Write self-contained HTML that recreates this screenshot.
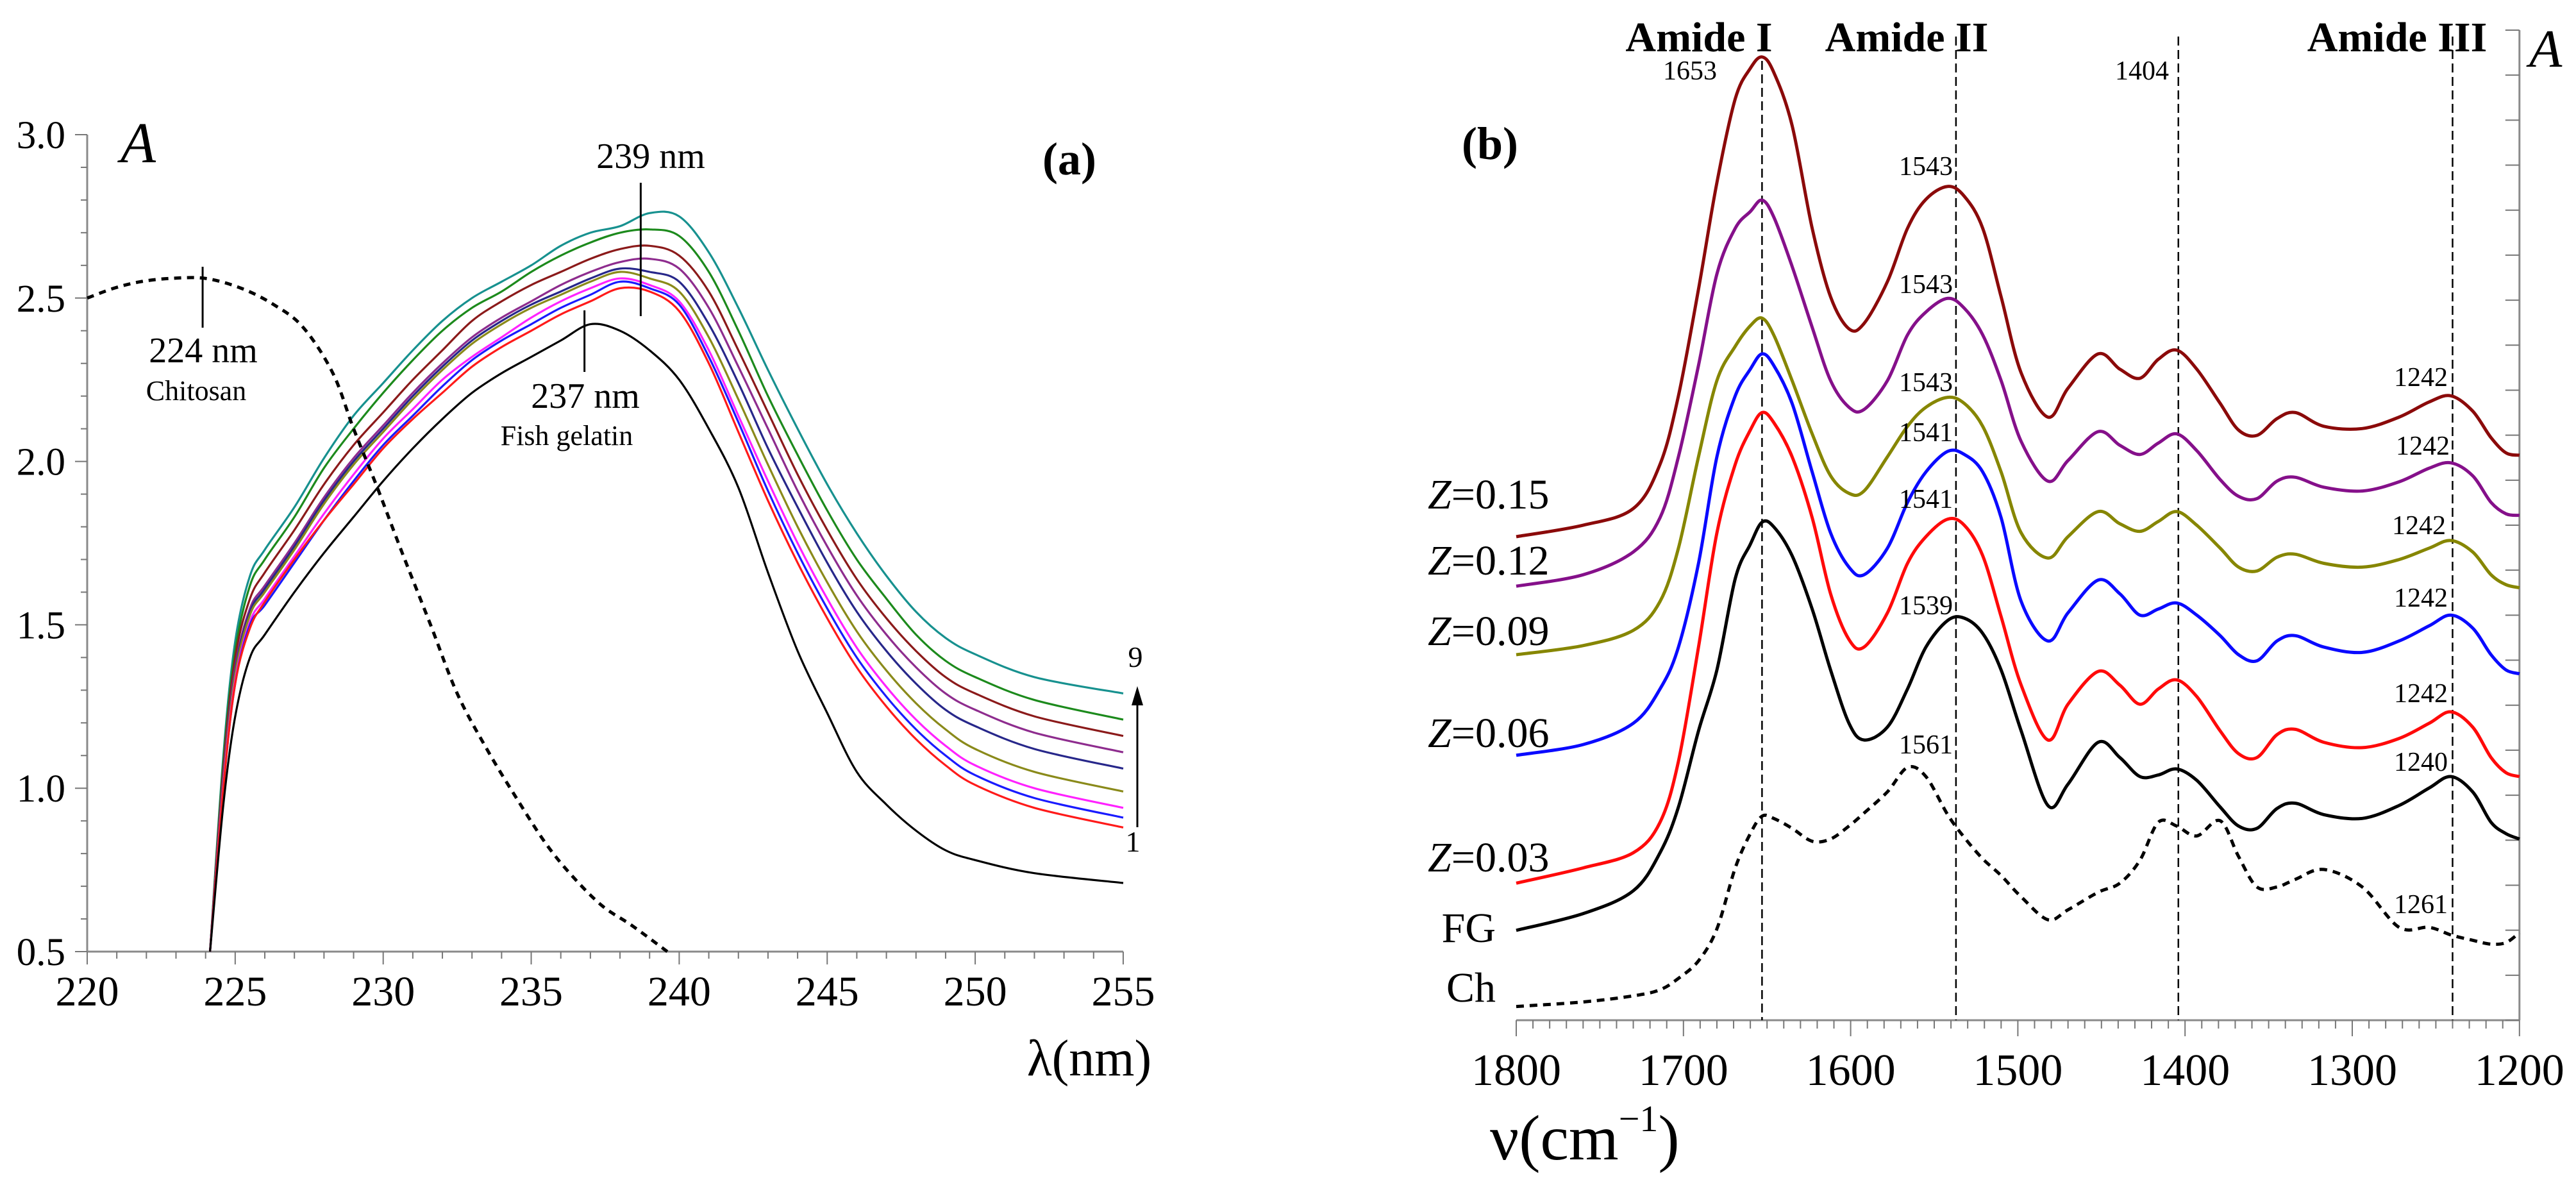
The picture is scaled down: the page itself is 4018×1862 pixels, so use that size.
<!DOCTYPE html>
<html><head><meta charset="utf-8"><style>
html,body{margin:0;padding:0;background:#fff}
svg{display:block}
text{font-family:"Liberation Serif","DejaVu Serif",serif;fill:#000}
</style></head><body>
<svg id="fig" width="4018" height="1862" viewBox="0 0 4018 1862" xmlns="http://www.w3.org/2000/svg" font-family="Liberation Serif, serif">
<g id="pa"></g>
<g id="pb"></g>
</svg>
<script>
// ---------- Panel (a) data ----------
const aXTicks = [220,225,230,235,240,245,250,255];
const aYTicks = [0.5,1.0,1.5,2.0,2.5,3.0];
const aNm = [224.15,224.6,225,225.5,226,227,228,229,230,231,232,233,234,235,236,237,238,239,240,241,242,243,244,245,246,247,248,249,250,252,255];
const aTeal = [0.5,1.1,1.45,1.65,1.73,1.86,2.01,2.14,2.24,2.34,2.43,2.50,2.55,2.60,2.66,2.70,2.72,2.76,2.75,2.64,2.47,2.28,2.10,1.93,1.78,1.65,1.54,1.46,1.41,1.34,1.29];
const aGreen = [0.5,1.08,1.42,1.62,1.70,1.83,1.98,2.10,2.21,2.31,2.40,2.47,2.52,2.58,2.63,2.67,2.70,2.71,2.69,2.58,2.40,2.20,2.02,1.85,1.70,1.58,1.47,1.39,1.34,1.27,1.21];
const aDarkRed = [0.5,1.06,1.40,1.58,1.66,1.79,1.93,2.05,2.15,2.25,2.34,2.43,2.49,2.54,2.58,2.62,2.65,2.66,2.63,2.52,2.34,2.15,1.96,1.79,1.64,1.52,1.42,1.34,1.29,1.22,1.16];
const aPurple = [0.5,1.04,1.37,1.55,1.62,1.75,1.89,2.01,2.11,2.21,2.30,2.38,2.44,2.49,2.54,2.58,2.61,2.62,2.59,2.47,2.29,2.10,1.91,1.74,1.59,1.47,1.37,1.29,1.24,1.17,1.11];
const aNavy = [0.5,1.03,1.36,1.54,1.61,1.74,1.88,2.00,2.10,2.20,2.29,2.37,2.43,2.48,2.52,2.56,2.59,2.58,2.55,2.42,2.24,2.04,1.86,1.69,1.54,1.42,1.32,1.24,1.19,1.12,1.06];
const aOlive = [0.5,1.02,1.35,1.53,1.60,1.73,1.87,1.99,2.09,2.19,2.28,2.36,2.42,2.47,2.51,2.55,2.58,2.56,2.52,2.38,2.19,1.99,1.80,1.63,1.48,1.36,1.26,1.18,1.12,1.05,0.99];
const aMagenta = [0.5,1.01,1.33,1.51,1.58,1.71,1.84,1.96,2.07,2.16,2.25,2.32,2.38,2.44,2.49,2.53,2.56,2.54,2.49,2.34,2.14,1.94,1.75,1.58,1.43,1.31,1.21,1.13,1.07,1.00,0.94];
const aBlue = [0.5,1.00,1.32,1.50,1.56,1.69,1.82,1.94,2.05,2.14,2.23,2.31,2.37,2.42,2.47,2.51,2.55,2.53,2.48,2.32,2.12,1.91,1.72,1.55,1.40,1.28,1.18,1.10,1.04,0.97,0.91];
const aRed = [0.5,1.00,1.32,1.49,1.57,1.70,1.82,1.93,2.04,2.13,2.21,2.29,2.35,2.40,2.45,2.49,2.53,2.52,2.46,2.30,2.09,1.88,1.69,1.52,1.37,1.25,1.15,1.07,1.01,0.94,0.88];
const aBlack = [0.5,0.95,1.22,1.40,1.47,1.60,1.72,1.83,1.94,2.04,2.13,2.21,2.27,2.32,2.37,2.42,2.40,2.34,2.25,2.10,1.92,1.66,1.42,1.23,1.05,0.95,0.87,0.81,0.78,0.74,0.71];
const aChNm = [220,220.9,221.8,222.8,224,225.2,226.3,227.3,228.3,229,229.8,230.6,231.6,232.5,233.5,234.5,235.5,236.4,237.4,238.4,239.6];
const aChA = [2.50,2.53,2.55,2.56,2.56,2.53,2.48,2.41,2.27,2.10,1.92,1.73,1.50,1.29,1.12,0.97,0.83,0.73,0.64,0.58,0.50];

// ---------- Panel (b) data ----------
const bXTicks = [1800,1700,1600,1500,1400,1300,1200];
const bWn = [1800,1760,1730,1714,1703,1691,1680,1669,1660,1653,1646,1635,1623,1612,1601,1592,1578,1566,1555,1542,1532,1521,1510,1498,1482,1470,1452,1439,1427,1416,1405,1393,1379,1368,1357,1345,1334,1317,1294,1272,1254,1241,1228,1217,1208,1200];
const bZ15 = [6.35,6.50,6.72,7.30,8.20,9.60,11.00,12.10,12.50,12.65,12.45,11.75,10.40,9.50,9.08,9.15,9.70,10.40,10.78,10.95,10.82,10.40,9.50,8.50,7.92,8.30,8.75,8.55,8.43,8.68,8.80,8.55,8.10,7.75,7.68,7.90,7.98,7.80,7.77,7.92,8.12,8.20,8.00,7.65,7.45,7.42];
const bZ12 = [5.70,5.85,6.15,6.60,7.40,8.60,9.80,10.40,10.62,10.77,10.55,9.90,9.10,8.40,8.05,8.02,8.40,9.00,9.30,9.48,9.35,9.00,8.40,7.60,7.08,7.35,7.73,7.55,7.43,7.58,7.70,7.48,7.10,6.88,6.85,7.08,7.13,7.00,6.95,7.07,7.25,7.32,7.15,6.80,6.65,6.63];
const bZ09 = [4.80,4.92,5.12,5.50,6.20,7.40,8.40,8.85,9.12,9.22,9.00,8.40,7.70,7.15,6.92,6.95,7.40,7.80,8.05,8.18,8.10,7.80,7.20,6.40,6.07,6.35,6.68,6.52,6.42,6.55,6.68,6.50,6.20,5.95,5.90,6.08,6.12,6.00,5.95,6.05,6.20,6.30,6.15,5.85,5.72,5.68];
const bZ06 = [3.48,3.62,3.90,4.35,4.90,6.00,7.40,8.20,8.55,8.75,8.60,8.10,7.20,6.40,5.95,5.85,6.20,6.80,7.20,7.47,7.43,7.20,6.60,5.50,4.98,5.35,5.78,5.60,5.32,5.40,5.48,5.32,5.05,4.80,4.72,4.98,5.05,4.90,4.83,4.98,5.18,5.32,5.15,4.80,4.60,4.55];
const bZ03 = [1.80,2.00,2.20,2.60,3.40,4.90,6.40,7.30,7.75,7.98,7.85,7.40,6.60,5.60,5.00,4.90,5.35,6.00,6.35,6.58,6.50,6.10,5.30,4.40,3.68,4.15,4.58,4.40,4.15,4.35,4.47,4.25,3.80,3.50,3.45,3.75,3.82,3.65,3.58,3.70,3.90,4.05,3.85,3.45,3.25,3.20];
const bFG = [1.18,1.40,1.70,2.20,2.80,3.80,4.60,5.80,6.25,6.54,6.48,6.10,5.40,4.60,3.90,3.68,3.85,4.35,4.90,5.25,5.28,5.08,4.60,3.80,2.82,3.10,3.65,3.45,3.20,3.22,3.30,3.15,2.80,2.55,2.52,2.78,2.85,2.70,2.65,2.82,3.05,3.20,3.00,2.60,2.45,2.38];
const bCh = [0.18,0.24,0.32,0.40,0.55,0.78,1.20,2.00,2.45,2.68,2.65,2.52,2.35,2.38,2.55,2.72,3.00,3.32,3.20,2.70,2.40,2.12,1.90,1.62,1.32,1.45,1.68,1.80,2.10,2.60,2.55,2.42,2.62,2.15,1.75,1.75,1.85,1.98,1.75,1.22,1.22,1.12,1.05,1.00,1.02,1.15];
const bRefLines = [1653,1537,1404,1240];

// ---------- helpers ----------
const NS = 'http://www.w3.org/2000/svg';
function mk(parent, tag, attrs, txt){
  const el = document.createElementNS(NS, tag);
  for (const k in attrs) el.setAttribute(k, attrs[k]);
  if (txt !== undefined) el.textContent = txt;
  parent.appendChild(el);
  return el;
}
function smoothPath(pts){
  let d = 'M' + pts[0][0].toFixed(1) + ',' + pts[0][1].toFixed(1);
  for (let i = 0; i < pts.length - 1; i++){
    const p0 = pts[Math.max(0,i-1)], p1 = pts[i], p2 = pts[i+1], p3 = pts[Math.min(pts.length-1,i+2)];
    const c1x = p1[0] + (p2[0]-p0[0])/6, c1y = p1[1] + (p2[1]-p0[1])/6;
    const c2x = p2[0] - (p3[0]-p1[0])/6, c2y = p2[1] - (p3[1]-p1[1])/6;
    d += ' C' + c1x.toFixed(1)+','+c1y.toFixed(1)+' '+c2x.toFixed(1)+','+c2y.toFixed(1)+' '+p2[0].toFixed(1)+','+p2[1].toFixed(1);
  }
  return d;
}

// ---------- Panel (a) ----------
const pa = document.getElementById('pa');
const xA = nm => 136 + (nm - 220) * 46.17;
const yA = a => 1484 - (a - 0.5) * 509.6;
const axA = mk(pa, 'g', {});


mk(axA, 'line', {x1:xA(220), y1:yA(0.5), x2:xA(255), y2:yA(0.5), stroke:'#8a8a8a', 'stroke-width':3});
mk(axA, 'line', {x1:xA(220), y1:yA(0.5), x2:xA(220), y2:yA(3.0), stroke:'#8a8a8a', 'stroke-width':3});
for (let n = 220; n <= 255; n++){
  const major = (n % 5 === 0);
  mk(axA, 'line', {x1:xA(n), y1:yA(0.5), x2:xA(n), y2:yA(0.5) + (major ? 20 : 11), stroke:'#777', 'stroke-width':2});
}
for (let i = 0; i <= 25; i++){
  const v = 0.5 + i * 0.1;
  const major = (i % 5 === 0);
  mk(axA, 'line', {x1:xA(220), y1:yA(v), x2:xA(220) - (major ? 19 : 10), y2:yA(v), stroke:'#777', 'stroke-width':2});
}
aXTicks.forEach(t => {
  const el = mk(axA, 'text', {x:xA(t), y:1568, 'font-size':66, 'text-anchor':'middle', 'font-family':'Liberation Serif, serif'}, String(t));
  
  
});
aYTicks.forEach(t => {
  const el = mk(axA, 'text', {x:102, y:yA(t) + 21, 'font-size':61, 'text-anchor':'end', 'font-family':'Liberation Serif, serif'}, t.toFixed(1));
  
  
});

const aSeries = [
  [aTeal,'#17918f','curve-9-teal'], [aGreen,'#1c8a1c','curve-8-green'], [aDarkRed,'#8b1a1a','curve-7-darkred'],
  [aPurple,'#8e2c8e','curve-6-purple'], [aNavy,'#27278a','curve-5-navy'], [aOlive,'#8a8a1a','curve-4-olive'],
  [aMagenta,'#ff22ff','curve-3-magenta'], [aBlue,'#1a1aff','curve-2-blue'], [aRed,'#ff1a1a','curve-1-red'],
  [aBlack,'#000000','fish-gelatin-curve']
];
aSeries.forEach(s => {
  const pts = aNm.map((n, i) => [xA(n), yA(s[0][i])]);
  const p = mk(pa, 'path', {d:smoothPath(pts), fill:'none', stroke:s[1], 'stroke-width':3.2});
  
  
});
{
  const pts = aChNm.map((n, i) => [xA(n), yA(aChA[i])]);
  const p = mk(pa, 'path', {d:smoothPath(pts), fill:'none', stroke:'#000', 'stroke-width':5, 'stroke-dasharray':'11 9'});
  
  
}
// annotations a
mk(pa, 'line', {x1:xA(223.9), y1:416, x2:xA(223.9), y2:511, stroke:'#000', 'stroke-width':3});
mk(pa, 'line', {x1:xA(238.7), y1:285, x2:xA(238.7), y2:493, stroke:'#000', 'stroke-width':3});
mk(pa, 'line', {x1:xA(236.8), y1:484, x2:xA(236.8), y2:580, stroke:'#000', 'stroke-width':3});
[['224 nm',317,565,56,'label-224nm'],['Chitosan',306,624,44,'label-chitosan'],
 ['239 nm',1015,262,56,'label-239nm'],['237 nm',913,636,56,'label-237nm'],['Fish gelatin',884,694,44,'label-fish-gelatin']].forEach(t => {
  const el = mk(pa, 'text', {x:t[1], y:t[2], 'font-size':t[3], 'text-anchor':'middle', 'font-family':'Liberation Serif, serif'}, t[0]);
  
  
});
{
  const el = mk(pa, 'text', {x:188, y:253, 'font-size':90, 'font-style':'italic', 'font-family':'Liberation Serif, serif'}, 'A');
  
  
  const el2 = mk(pa, 'text', {x:1668, y:272, 'font-size':72, 'font-weight':'bold', 'text-anchor':'middle', 'font-family':'Liberation Serif, serif'}, '(a)');
  
  
  const el3 = mk(pa, 'text', {x:1699, y:1677, 'font-size':80, 'text-anchor':'middle', 'font-family':'Liberation Serif, serif'}, 'λ(nm)');
  
  
  const n9 = mk(pa, 'text', {x:1771, y:1040, 'font-size':46, 'text-anchor':'middle', 'font-family':'Liberation Serif, serif'}, '9');
  
  
  const n1 = mk(pa, 'text', {x:1767, y:1328, 'font-size':46, 'text-anchor':'middle', 'font-family':'Liberation Serif, serif'}, '1');
  
  
  const ar = mk(pa, 'line', {x1:1774, y1:1290, x2:1774, y2:1095, stroke:'#000', 'stroke-width':3});
  
  
  mk(pa, 'polygon', {points:'1774,1070 1765,1100 1783,1100', fill:'#000'});
}

// ---------- Panel (b) ----------
const pb = document.getElementById('pb');
const xB = w => 2365 + (1800 - w) * 2.608;
const yB = v => 1591 - v * 118.75;
const axB = mk(pb, 'g', {});


mk(axB, 'line', {x1:xB(1800), y1:yB(0), x2:xB(1200), y2:yB(0), stroke:'#8a8a8a', 'stroke-width':3});
mk(axB, 'line', {x1:xB(1200), y1:yB(0), x2:xB(1200), y2:47, stroke:'#8a8a8a', 'stroke-width':3});
for (let w = 1800; w >= 1200; w -= 10){
  const major = (w % 100 === 0);
  mk(axB, 'line', {x1:xB(w), y1:yB(0), x2:xB(w), y2:yB(0) + (major ? 25 : 13), stroke:'#777', 'stroke-width':2});
}
for (let i = 0; i <= 22; i++){
  const y = 1591 - i * (1591 - 47) / 22;
  mk(axB, 'line', {x1:xB(1200), y1:y, x2:xB(1200) - 22, y2:y, stroke:'#777', 'stroke-width':2});
}
bXTicks.forEach(t => {
  const el = mk(axB, 'text', {x:xB(t), y:1692, 'font-size':70, 'text-anchor':'middle', 'font-family':'Liberation Serif, serif'}, String(t));
  
  
});
bRefLines.forEach((w, i) => {
  const el = mk(pb, 'line', {x1:xB(w), y1:(i === 0 ? 95 : 57), x2:xB(w), y2:yB(0), stroke:'#000', 'stroke-width':2.5, 'stroke-dasharray':'14 7'});
  
  
});
const bSeries = [
  [bZ15,'#8b0a0a','ftir-z-0.15'], [bZ12,'#85108a','ftir-z-0.12'], [bZ09,'#868600','ftir-z-0.09'],
  [bZ06,'#0a0aff','ftir-z-0.06'], [bZ03,'#ff0a0a','ftir-z-0.03'], [bFG,'#000000','ftir-fish-gelatin']
];
bSeries.forEach(s => {
  const pts = bWn.map((w, i) => [xB(w), yB(s[0][i])]);
  const p = mk(pb, 'path', {d:smoothPath(pts), fill:'none', stroke:s[1], 'stroke-width':5});
  
  
});
{
  const pts = bWn.map((w, i) => [xB(w), yB(bCh[i])]);
  const p = mk(pb, 'path', {d:smoothPath(pts), fill:'none', stroke:'#000', 'stroke-width':5, 'stroke-dasharray':'12 9'});
  
  
}
// labels b
[['Amide I',2650,80,'amide-i-label'],['Amide II',2974,80,'amide-ii-label'],['Amide III',3739,80,'amide-iii-label']].forEach(t => {
  const el = mk(pb, 'text', {x:t[1], y:t[2], 'font-size':66, 'font-weight':'bold', 'text-anchor':'middle', 'font-family':'Liberation Serif, serif'}, t[0]);
  
  
});
[['1653',2636,124],['1404',3341,124],['1543',3004,273],['1543',3004,457],['1543',3004,610],['1541',3004,688],['1541',3004,792],
 ['1539',3004,958],['1561',3004,1175],['1242',3776,602],['1242',3779,709],['1242',3773,833],['1242',3776,946],['1242',3776,1095],
 ['1240',3776,1202],['1261',3776,1424]].forEach(t => {
  const el = mk(pb, 'text', {x:t[1], y:t[2], 'font-size':42, 'text-anchor':'middle', 'font-family':'Liberation Serif, serif'}, t[0]);
  
  
});
[['0.15',770],['0.12',873],['0.09',983],['0.06',1142],['0.03',1336]].forEach(t => {
  const el = mk(pb, 'text', {x:2227, y:t[1] + 23, 'font-size':66, 'font-family':'Liberation Serif, serif'});
  
  
  mk(el, 'tspan', {'font-style':'italic'}, 'Z');
  mk(el, 'tspan', {}, '=' + t[0]);
});
{
  const fg = mk(pb, 'text', {x:2333, y:1469, 'font-size':66, 'text-anchor':'end', 'font-family':'Liberation Serif, serif'}, 'FG');
  
  
  const ch = mk(pb, 'text', {x:2333, y:1562, 'font-size':66, 'text-anchor':'end', 'font-family':'Liberation Serif, serif'}, 'Ch');
  
  
  const pl = mk(pb, 'text', {x:2324, y:248, 'font-size':72, 'font-weight':'bold', 'text-anchor':'middle', 'font-family':'Liberation Serif, serif'}, '(b)');
  
  
  const ya = mk(pb, 'text', {x:3945, y:104, 'font-size':84, 'font-style':'italic', 'font-family':'Liberation Serif, serif'}, 'A');
  
  
  const xt = mk(pb, 'text', {x:2324, y:1808, 'font-size':100, 'font-family':'Liberation Serif, serif'}, 'ν(cm');
  
  
  mk(xt, 'tspan', {'font-size':58, dy:-44}, '−1');
  mk(xt, 'tspan', {dy:44}, ')');
}
</script>
</body></html>
